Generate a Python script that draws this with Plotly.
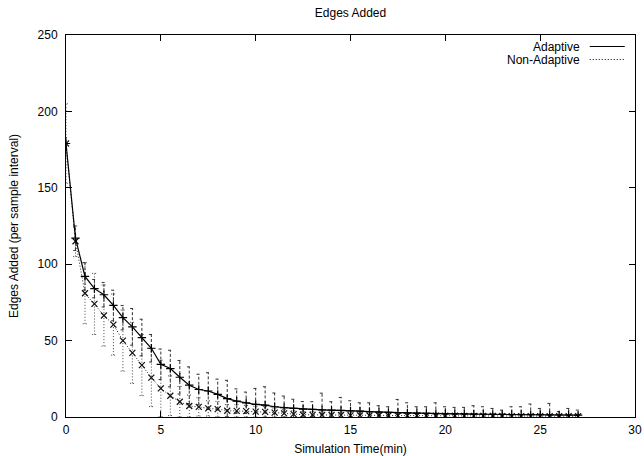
import plotly.graph_objects as go

# ---- data ----
time_min = [0, 0.5, 1, 1.5, 2, 2.5, 3, 3.5, 4, 4.5, 5, 5.5, 6, 6.5, 7, 7.5, 8, 8.5, 9, 9.5,
            10, 10.5, 11, 11.5, 12, 12.5, 13, 13.5, 14, 14.5, 15, 15.5, 16, 16.5, 17, 17.5,
            18, 18.5, 19, 19.5, 20, 20.5, 21, 21.5, 22, 22.5, 23, 23.5, 24, 24.5, 25, 25.5,
            26, 26.5, 27]

adaptive = [179, 117, 92, 84, 80, 73, 65, 59, 52, 45, 34.5, 31.7, 26, 20.8, 18, 17, 14.8, 12,
            10.4, 9.3, 8.2, 7.8, 6.7, 6.1, 5.6, 5.1, 5.0, 4.6, 4.5, 4.3, 4.0, 3.8, 3.5, 3.2,
            3.0, 2.9, 2.7, 2.6, 2.4, 2.2, 2.1, 2.0, 2.0, 1.9, 1.8, 1.7, 1.7, 1.6, 1.6, 1.5,
            1.5, 1.4, 1.3, 1.3, 1.2]
adaptive_err = [4, 8, 9, 6, 8, 10, 8, 12, 12, 9, 10, 12, 11, 12, 10, 12, 10, 12, 8, 7,
                10.5, 12, 9, 7.6, 6, 5, 5, 11, 5.5, 8.5, 6.6, 5.5, 5.8, 4.2, 3.7, 8.6,
                6.6, 4.1, 4.3, 7.1, 4.6, 4.3, 4.3, 5.5, 4.9, 3.9, 2.8, 5.1, 5.1, 7,
                4.1, 7.5, 2.2, 4.3, 3.3]

non_adaptive = [179, 115, 81, 74, 66.4, 60.5, 50, 42, 34, 25.8, 18.7, 13.9, 10, 7.2, 6.6, 5.6,
                5.2, 4.1, 4.0, 3.8, 3.5, 3.4, 2.9, 2.4, 1.9, 1.5, 1.4, 1.3, 1.3, 1.2, 1.1,
                1.1, 1.0, 1.0, 1.0, 0.9, 0.9, 0.9, 0.8, 0.8, 0.8, 0.8, 0.7, 0.7, 0.7, 0.7,
                0.6, 0.6, 0.6, 0.6, 0.6, 0.5, 0.5, 0.5, 0.5]
non_adaptive_err = [26, 10, 20, 20, 20, 20, 20, 20, 20, 19, 18.5, 13, 10, 7.2, 6, 5, 5, 4, 4,
                    3.8, 3.5, 3.4, 2.9, 2.4, 2.2, 2.0, 2.1, 1.9, 2.0, 1.8, 1.9, 1.7, 1.8,
                    1.7, 1.6, 1.7, 1.5, 1.6, 1.5, 1.4, 1.5, 1.4, 1.3, 1.4, 1.3, 1.2, 1.3,
                    1.2, 1.1, 1.2, 1.0, 1.1, 1.0, 1.0, 1.0]

x_ticks = [0, 5, 10, 15, 20, 25, 30]
y_ticks = [0, 50, 100, 150, 200, 250]

FONT = "Liberation Sans"
CAP = 0.12  # half-width of error-bar caps in minutes


def errorbar_path(xs, ys, es):
    px, py = [], []
    for x, y, e in zip(xs, ys, es):
        lo, hi = y - e, y + e
        px += [x, x, None, x - CAP, x + CAP, None, x - CAP, x + CAP, None]
        py += [lo, hi, None, hi, hi, None, lo, lo, None]
    return px, py


fig = go.Figure()

ex, ey = errorbar_path(time_min, adaptive, adaptive_err)
fig.add_trace(go.Scatter(x=ex, y=ey, mode="lines", showlegend=False, hoverinfo="skip",
                         line=dict(color="#333333", width=1, dash="3px,2px")))
ex, ey = errorbar_path(time_min, non_adaptive, non_adaptive_err)
fig.add_trace(go.Scatter(x=ex, y=ey, mode="lines", showlegend=False, hoverinfo="skip",
                         line=dict(color="#444444", width=1, dash="1px,2px")))

fig.add_trace(go.Scatter(x=time_min, y=non_adaptive, mode="lines+markers", name="Non-Adaptive",
                         showlegend=False,
                         line=dict(color="#222222", width=1, dash="1px,2px"),
                         marker=dict(symbol="x-thin", size=6, line=dict(color="#111111", width=1.2))))
fig.add_trace(go.Scatter(x=time_min, y=adaptive, mode="lines+markers", name="Adaptive",
                         showlegend=False,
                         line=dict(color="black", width=1.2),
                         marker=dict(symbol="cross-thin", size=6, line=dict(color="black", width=1.2))))

# custom gnuplot-style key (text then sample)
legend_items = [("Adaptive", None), ("Non-Adaptive", "1px,2px")]
for i, (label, dash) in enumerate(legend_items):
    yk = 1 - (11.5 + 13 * i) / 382.0
    fig.add_annotation(x=0.906, y=yk, xref="paper", yref="paper", text=label, showarrow=False,
                       xanchor="right", yanchor="middle", font=dict(family=FONT, size=12, color="black"))
    fig.add_shape(type="line", xref="paper", yref="paper", x0=0.9205, x1=0.982, y0=yk, y1=yk,
                  line=dict(color="black", width=1 if dash else 1.2, dash=dash if dash else "solid"))

axis_common = dict(showline=True, linecolor="black", linewidth=1, mirror="allticks",
                   ticks="inside", ticklen=6, tickcolor="black", showgrid=False, zeroline=False,
                   tickfont=dict(family=FONT, size=12, color="black"))

fig.update_layout(
    width=644, height=456,
    margin=dict(l=66, r=9, t=35, b=39),
    paper_bgcolor="white", plot_bgcolor="white",
    title=dict(text="Edges Added", x=0.5, xref="paper", y=1 - 13 / 456, yref="container",
               xanchor="center", yanchor="middle", font=dict(family=FONT, size=12, color="black")),
    xaxis=dict(range=[0, 30], tickvals=x_ticks, automargin=False, ticklabelstandoff=2,
               title=dict(text="Simulation Time(min)", standoff=10,
                          font=dict(family=FONT, size=12, color="black")),
               **axis_common),
    yaxis=dict(range=[0, 250], tickvals=y_ticks, automargin=False, ticklabelstandoff=5,
               title=dict(text="Edges Added (per sample interval)", standoff=16,
                          font=dict(family=FONT, size=12, color="black")),
               **axis_common),
)

fig.write_html("out.html")
